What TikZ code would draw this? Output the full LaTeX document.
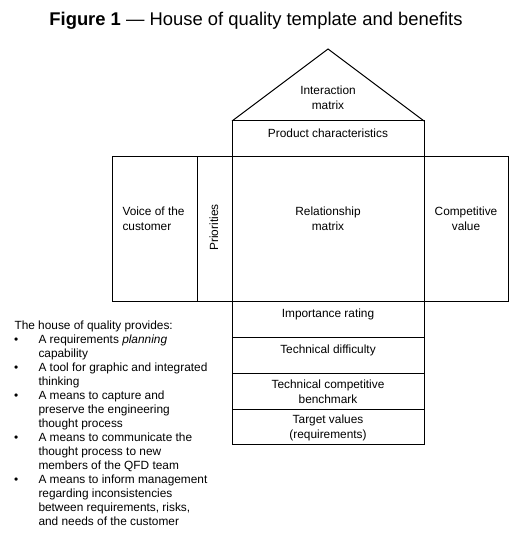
\documentclass[tikz,border=0pt]{standalone}
\usepackage{fontspec}
\setmainfont{Liberation Sans}
\begin{document}
\begin{tikzpicture}[x=0.75pt, y=-0.75pt, line width=0.75pt]
    \tikzset{boxtext/.style={inner sep=0pt, font=\fontsize{8.9}{11.25}\selectfont, align=center}};
    \tikzset{listline/.style={inner sep=0pt, anchor=base west, font=\fontsize{8.9}{10.5}\selectfont}};
    \useasboundingbox (0,0) rectangle (517,534);
    % title
    \node[inner sep=0pt, anchor=base, font=\fontsize{13.8}{16}\selectfont] (title) at (256,26) {\textbf{Figure 1} --- House of quality template and benefits};
    % roof
    \coordinate (roofL) at (232,121);
    \coordinate (roofT) at (328,49);
    \coordinate (roofR) at (424,121);
    \draw (roofL) -- (roofT) -- (roofR);
    \node[boxtext] (inter) at (328,97.5) {Interaction\\matrix};
    % product characteristics
    \draw (232,121) rectangle (424,157);
    \node[boxtext] (prod) at (328,133) {Product characteristics};
    % middle row
    \draw (112,157) rectangle (508,301);
    \draw (197,157) -- (197,301);
    \draw (232,157) -- (232,301);
    \draw (424,157) -- (424,301);
    \node[boxtext, anchor=west, align=left] (voice) at (122,218.5) {Voice of the\\customer};
    \node[boxtext, rotate=90] (prio) at (214,227.5) {Priorities};
    \node[boxtext] (rel) at (328,218.5) {Relationship\\matrix};
    \node[boxtext] (comp) at (466,218.5) {Competitive\\value};
    % bottom rows
    \foreach \ya/\yb in {301/337, 337/373, 373/409, 409/444}
        \draw (232,\ya) rectangle (424,\yb);
    \node[boxtext] (imp) at (328,314) {Importance rating};
    \node[boxtext] (diff) at (328,350) {Technical difficulty};
    \node[boxtext] (bench) at (328,392) {Technical competitive\\benchmark};
    \node[boxtext] (target) at (328,428) {Target values\\(requirements)};
    % benefits list
    \node[listline] (head) at (14,329) {The house of quality provides:};
    \foreach \txt/\blt [count=\i] in {A requirements \textit{planning}/1, capability/0,
            A tool for graphic and integrated/1, thinking/0,
            A means to capture and/1, preserve the engineering/0, thought process/0,
            A means to communicate the/1, thought process to new/0, members of the QFD team/0,
            A means to inform management/1, regarding inconsistencies/0,
            {between requirements, risks,}/0, and needs of the customer/0} {
        \node[listline] (line\i) at (38,329+14*\i) {\txt};
        \ifnum\blt=1
            \node[listline] (dot\i) at (13.5,329+14*\i) {\textbullet};
        \fi
    }
\end{tikzpicture}
\end{document}
